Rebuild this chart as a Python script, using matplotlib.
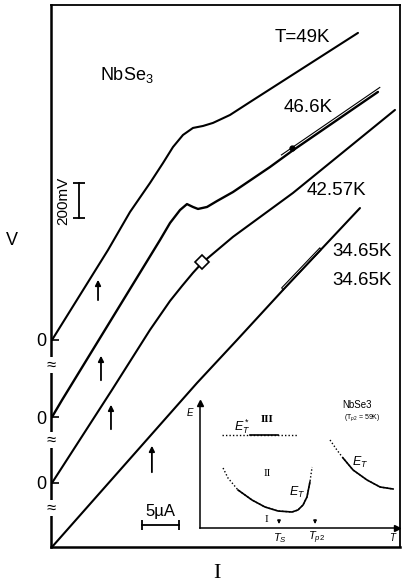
import numpy as np
import matplotlib.pyplot as plt

plt.rcParams['font.family'] = ['Liberation Sans', 'DejaVu Sans']
plt.rcParams['mathtext.fontset'] = 'custom'
plt.rcParams['mathtext.rm'] = 'Liberation Sans'
plt.rcParams['mathtext.it'] = 'Liberation Sans:italic'

# V-I curves, current in uA, voltage in mV (relative to each curve's own zero)
i_49 = [0, 7.57, 10.54, 13.24, 15.0, 16.35, 17.70, 19.05, 20.41, 21.76, 24.05, 26.76, 41.35]
v_49 = [0, 500, 711, 872, 983, 1072, 1139, 1178, 1189, 1206, 1250, 1322, 1706]

i_466 = [0, 1.35, 14.59, 15.95, 17.30, 18.24, 19.05, 19.73, 20.95, 22.30, 24.46, 29.46, 32.43, 44.05]
v_466 = [0, 94, 983, 1078, 1150, 1183, 1167, 1156, 1167, 1200, 1250, 1389, 1478, 1806]

i_4257 = [0, 8.11, 13.24, 15.95, 17.57, 19.05, 20.27, 24.46, 32.57, 46.35]
v_4257 = [0, 517, 850, 1011, 1094, 1167, 1222, 1367, 1611, 2072]

i_3465 = [0, 19.59, 25.0, 31.22, 41.62]
v_3465 = [0, 911, 1150, 1428, 1883]

curves_i = [i_49, i_466, i_4257, i_3465]
curves_v = [v_49, v_466, v_4257, v_3465]
offsets = [1150, 722, 356, 0]          # vertical shift of each curve (mV)
labels = ['T=49K', '46.6K', '42.57K', '34.65K']
label_pos = [(33.8, 2828), (34.6, 2439), (38.5, 1983), (41.9, 1639)]

# hysteresis marks
hyst46_i = [31.0, 44.3]
hyst46_v = [2178, 2553]
hyst34_i = [31.2, 36.35, 36.2, 31.05, 31.2]
hyst34_v = [1428, 1650, 1662, 1440, 1428]
loop42 = (20.27, 1584)
dot46 = (32.43, 2217)

# threshold arrows (I, V from, V to)
arrows = [(6.22, 1356, 1500), (6.62, 911, 1078), (7.97, 639, 806), (13.5, 400, 578)]
breaks_v = [1011, 594, 217]

# inset: E_T(T) sketch, normalised units
et_star_t = [0.112, 0.497]
et_star_solid = [0.254, 0.396]
et_star_e = 0.744
left_t = [0.117, 0.142, 0.193, 0.264, 0.330, 0.396, 0.467, 0.497, 0.523, 0.543, 0.558, 0.569]
left_e = [0.48, 0.40, 0.304, 0.224, 0.168, 0.136, 0.128, 0.144, 0.184, 0.248, 0.368, 0.488]
right_t = [0.660, 0.695, 0.726, 0.777, 0.848, 0.914, 0.980]
right_e = [0.704, 0.624, 0.56, 0.464, 0.384, 0.328, 0.312]
t_s, t_p2 = 0.401, 0.584

fig = plt.figure(figsize=(4.09, 5.83), dpi=100)
ax = fig.add_axes([51/409, 36/583, 349/409, 542/583])
ax.set_xlim(-0.135, 47.03)
ax.set_ylim(0, 3011)

for k in range(4):
    vv = np.array(curves_v[k]) + offsets[k]
    ax.plot(curves_i[k], vv, color='k', lw=1.7 if k == 1 else 1.5,
            solid_capstyle='round', solid_joinstyle='round')
    ax.text(*label_pos[k], labels[k], fontsize=13.5, ha='center', va='center')
ax.text(41.9, 1483, '34.65K', fontsize=13.5, ha='center', va='center')

ax.plot(hyst46_i, hyst46_v, color='k', lw=0.8)
ax.plot(hyst34_i, hyst34_v, color='k', lw=0.8)
ax.plot(*loop42, marker='D', ms=7, mfc='white', mec='k', mew=1.2)
ax.plot(*dot46, marker='o', ms=3.5, color='k')

for x, v0, v1 in arrows:
    ax.annotate('', xy=(x, v1), xytext=(x, v0),
                arrowprops=dict(arrowstyle='-|>', color='k', lw=1.3, mutation_scale=8))

# scale bars
ax.plot([3.65, 3.65], [1828, 2022], color='k', lw=1.3, marker='_', ms=8, mew=1.3)
ax.text(1.5, 1925, '200mV', rotation=90, fontsize=11, ha='center', va='center')
ax.plot([12.16, 17.16], [122, 122], color='k', lw=1.3, marker='|', ms=7, mew=1.3)
ax.text(14.6, 196, '5µA', fontsize=12, ha='center', va='center')

ax.text(10.1, 2622, 'NbSe$_3$', fontsize=13, ha='center', va='center')

ax.set_xticks([])
ax.set_yticks(offsets[:3])
ax.set_yticklabels(['0', '0', '0'], fontsize=13)
ax.tick_params(axis='y', direction='in', length=6, width=1.2, pad=3)
for s in ax.spines.values():
    s.set_linewidth(1.3)
ax.spines['left'].set_linewidth(1.8)
ax.spines['bottom'].set_linewidth(1.8)
for v in breaks_v:
    ax.text(-0.135, v, '≈', fontsize=12, ha='center', va='center', clip_on=False,
            bbox=dict(boxstyle='square,pad=0.02', fc='white', ec='none'))

fig.text(12/409, 1 - 240/583, 'V', fontsize=13, ha='center', va='center')
fig.text(217/409, 1 - 573/583, 'I', fontsize=16, ha='center', va='center', family='Liberation Serif')

# inset
ins = fig.add_axes([200/409, 55/583, 197/409, 125/583])
ins.set_facecolor('none')
ins.set_xlim(0, 1)
ins.set_ylim(0, 1)
ins.set_xticks([])
ins.set_yticks([])
ins.spines['top'].set_visible(False)
ins.spines['right'].set_visible(False)
ins.spines['left'].set_linewidth(1.1)
ins.spines['bottom'].set_linewidth(1.1)
ins.plot(1, 0, '>', color='k', ms=5, transform=ins.get_yaxis_transform(), clip_on=False)
ins.plot(0, 1, '^', color='k', ms=5, transform=ins.get_xaxis_transform(), clip_on=False)

ins.plot(et_star_t, [et_star_e] * 2, color='k', lw=1.0, ls=(0, (1, 1.5)))
ins.plot(et_star_solid, [et_star_e] * 2, color='k', lw=1.2)
ins.plot(left_t, left_e, color='k', lw=1.0, ls=(0, (1, 1.5)))
ins.plot(left_t[2:11], left_e[2:11], color='k', lw=1.2)
ins.plot(right_t, right_e, color='k', lw=1.0, ls=(0, (1, 1.5)))
ins.plot(right_t[2:], right_e[2:], color='k', lw=1.2)
for t in (t_s, t_p2):
    ins.annotate('', xy=(t, 0.01), xytext=(t, 0.09),
                 arrowprops=dict(arrowstyle='-|>', color='k', lw=0.8, mutation_scale=5))

ins.text(-0.05, 0.93, '$E$', fontsize=7, ha='center', va='center')
ins.text(0.98, -0.07, '$T$', fontsize=7, ha='center', va='center')
ins.text(0.406, -0.08, '$T_S$', fontsize=8, ha='center', va='center')
ins.text(0.589, -0.08, '$T_{p2}$', fontsize=8, ha='center', va='center')
ins.text(0.335, 0.064, 'I', fontsize=8, ha='center', va='center', family='Liberation Serif')
ins.text(0.34, 0.44, 'II', fontsize=8, ha='center', va='center', family='Liberation Serif')
ins.text(0.34, 0.864, 'III', fontsize=8, ha='center', va='center', family='Liberation Serif', weight='bold')
ins.text(0.213, 0.81, '$E_T^*$', fontsize=9, ha='center', va='center')
ins.text(0.492, 0.288, '$E_T$', fontsize=9, ha='center', va='center')
ins.text(0.812, 0.528, '$E_T$', fontsize=9, ha='center', va='center')
ins.text(0.797, 0.984, 'NbSe3', fontsize=7, ha='center', va='center')
ins.text(0.822, 0.88, '(T$_{p2}$ = 59K)', fontsize=5, ha='center', va='center')

fig.savefig('out.png', dpi=100)
